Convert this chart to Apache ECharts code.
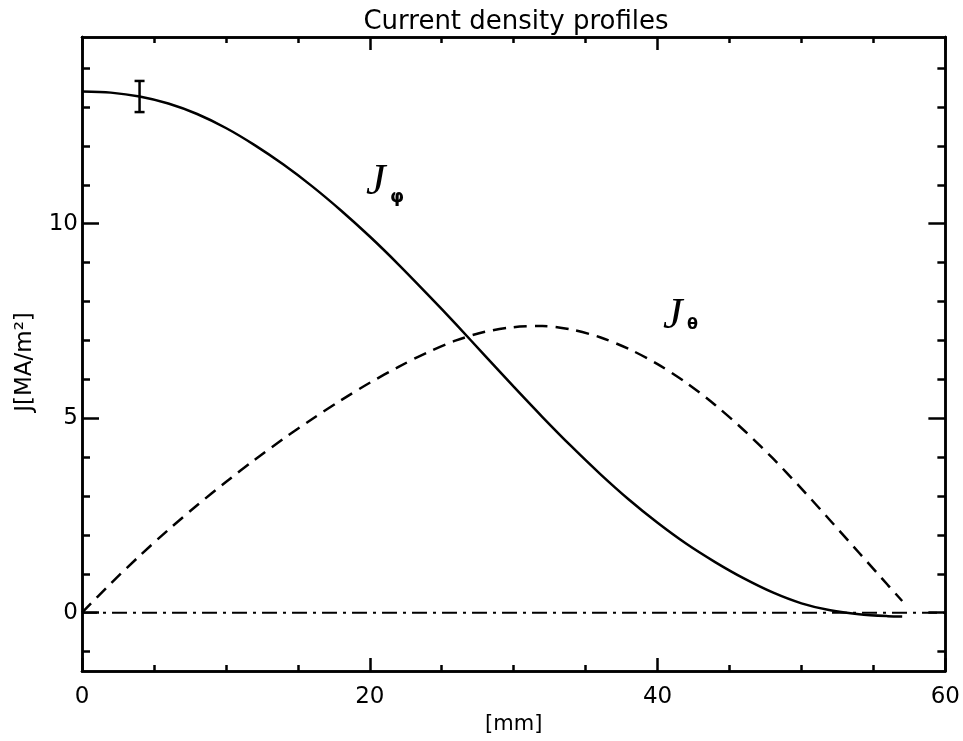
<!DOCTYPE html>
<html>
<head>
<meta charset="utf-8">
<script src="https://cdn.jsdelivr.net/npm/echarts@6/dist/echarts.min.js"></script>
<style>
html,body{margin:0;padding:0;background:#fff;}
#chart{width:963px;height:741px;}
</style>
</head>
<body>
<div id="chart"></div>
<script>
// ---- data ----
const xValues = [0,2,4,6,8,10,12,14,16,18,20,22,24,26,28,30,32,34,36,38,40,42,44,46,48,50,52,54,56,57];
const jPhi   = [13.4,13.37,13.27,13.09,12.82,12.46,12.02,11.52,10.96,10.34,9.67,8.95,8.19,7.41,6.61,5.81,5.03,4.28,3.57,2.91,2.31,1.77,1.30,0.88,0.52,0.24,0.06,-0.04,-0.09,-0.1];
const jTheta = [0,0.75,1.46,2.13,2.76,3.36,3.93,4.47,4.98,5.46,5.91,6.32,6.69,7.0,7.22,7.34,7.37,7.28,7.08,6.78,6.39,5.91,5.34,4.69,3.97,3.19,2.37,1.54,0.71,0.3];
const zeroLineX = [0, 60];
const zeroLineY = [0, 0];
const errX = [4];
const errLow = [12.87];
const errHigh = [13.67];
const xMajorTicks = [0,20,40,60];
const xMinorTicks = [5,10,15,25,30,35,45,50,55];
const yMajorTicks = [0,5,10];
const yMinorTicks = [-1,1,2,3,4,6,7,8,9,11,12,13,14];
const xRange = [0, 60];
const yRange = [-1.5, 14.8];

const FONT = 'DejaVu Sans';
const chart = echarts.init(document.getElementById('chart'), null, {renderer:'canvas'});

function xAxisDef(pos, ticks, len, labels, extra) {
  return Object.assign({
    type:'value', position:pos, min:xRange[0], max:xRange[1],
    axisLine:{show:true, onZero:false, lineStyle:{color:'#000', width:2.5}},
    axisTick:{show:true, inside:true, length:len, customValues:ticks, lineStyle:{color:'#000', width:2.5}},
    axisLabel:{show:labels, customValues:ticks, color:'#000', fontFamily:FONT, fontSize:23, margin:15},
    splitLine:{show:false}
  }, extra || {});
}
function yAxisDef(pos, ticks, len, labels) {
  return {
    type:'value', position:pos, min:yRange[0], max:yRange[1],
    axisLine:{show:true, onZero:false, lineStyle:{color:'#000', width:2.5}},
    axisTick:{show:true, inside:true, length:len, customValues:ticks, lineStyle:{color:'#000', width:2.5}},
    axisLabel:{show:labels, customValues:ticks, color:'#000', fontFamily:FONT, fontSize:23, margin:4},
    splitLine:{show:false}
  };
}

const option = {
  animation:false,
  backgroundColor:'#fff',
  title:{text:'Current density profiles', left:511, textAlign:'center', top:4,
    textStyle:{fontFamily:FONT, fontSize:26, fontWeight:'normal', color:'#000'}},
  grid:{left:82, right:17, top:37, bottom:70},
  xAxis:[
    xAxisDef('bottom', xMajorTicks, 13, true, {name:'[mm]', nameLocation:'middle', nameGap:38,
      nameTextStyle:{fontFamily:FONT, fontSize:21, color:'#000'}}),
    xAxisDef('bottom', xMinorTicks, 6, false),
    xAxisDef('top', xMajorTicks, 13, false),
    xAxisDef('top', xMinorTicks, 6, false)
  ],
  yAxis:[
    yAxisDef('left', yMajorTicks, 17, true),
    yAxisDef('left', yMinorTicks, 8, false),
    yAxisDef('right', yMajorTicks, 17, false),
    yAxisDef('right', yMinorTicks, 8, false)
  ],
  graphic:[
    {type:'text', x:25, y:362, rotation:Math.PI/2,
      style:{text:'J[MA/m²]', font:'23px "DejaVu Sans"', fill:'#000', align:'center', verticalAlign:'middle'}},
    {type:'text', x:366, y:160, style:{text:'J', font:'italic 44px "Liberation Serif"', fill:'#000'}},
    {type:'text', x:390, y:188, style:{text:'φ', font:'bold 18px "DejaVu Sans"', fill:'#000'}},
    {type:'text', x:663, y:294, style:{text:'J', font:'italic 44px "Liberation Serif"', fill:'#000'}},
    {type:'text', x:687, y:317, style:{text:'θ', font:'bold 16px "DejaVu Sans"', fill:'#000'}}
  ],
  series:[
    {type:'line', name:'Jphi', data:xValues.map((x,i)=>[x,jPhi[i]]), showSymbol:false,
      smooth:0.3, lineStyle:{color:'#000', width:2.5}},
    {type:'line', name:'Jtheta', data:xValues.map((x,i)=>[x,jTheta[i]]), showSymbol:false,
      smooth:0.3, lineStyle:{color:'#000', width:2.5, type:[13,8]}},
    {type:'line', name:'zero', data:zeroLineX.map((x,i)=>[x,zeroLineY[i]]), showSymbol:false,
      lineStyle:{color:'#000', width:2, type:[15,6,3,6]}},
    {type:'custom', name:'err', data:errX.map((x,i)=>[x,errLow[i],errHigh[i]]),
      renderItem:function(params, api){
        const x = api.value(0), lo = api.value(1), hi = api.value(2);
        const p1 = api.coord([x, lo]), p2 = api.coord([x, hi]);
        const st = {stroke:'#000', lineWidth:2.5};
        return {type:'group', children:[
          {type:'line', shape:{x1:p1[0], y1:p1[1], x2:p2[0], y2:p2[1]}, style:st},
          {type:'line', shape:{x1:p1[0]-5, y1:p1[1], x2:p1[0]+5, y2:p1[1]}, style:st},
          {type:'line', shape:{x1:p2[0]-5, y1:p2[1], x2:p2[0]+5, y2:p2[1]}, style:st}
        ]};
      }}
  ]
};
chart.setOption(option);
</script>
</body>
</html>
